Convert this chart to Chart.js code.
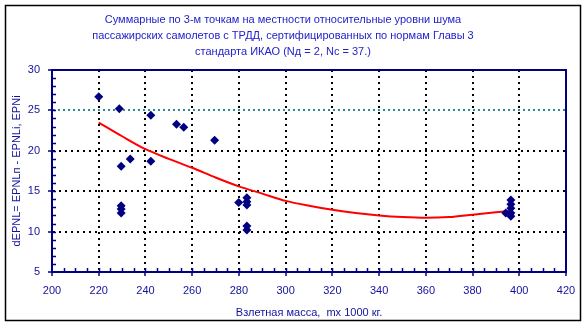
<!DOCTYPE html>
<html>
<head>
<meta charset="utf-8">
<script src="https://cdn.jsdelivr.net/npm/chart.js@4"></script>
<style>
  html, body { margin: 0; padding: 0; background: #fff; }
  #wrap { width: 586px; height: 328px; }
</style>
</head>
<body>
<div id="wrap"><canvas id="noiseChart" width="586" height="328"></canvas></div>
<script>
// takeoff mass (x1000 kg) and summed relative noise level per aircraft
const massPoints = [220, 228.8, 242.3, 253.3, 256.4, 269.6, 233.5, 229.6, 242.3,
  229.6, 229.6, 229.6, 279.9, 283.4, 283.4, 283.4, 283.4, 283.4,
  396.4, 396.4, 396.4, 396.4, 396.4, 394.2];
const deltaPoints = [26.7, 25.2, 24.4, 23.3, 22.9, 21.3, 19.0, 18.1, 18.7,
  13.2, 12.8, 12.3, 13.6, 14.2, 13.7, 13.3, 10.7, 10.2,
  13.9, 13.4, 12.9, 12.3, 11.9, 12.3];

// trend curve
const trendMass = [220, 230, 240, 250, 260, 270, 280, 290, 300, 310, 320, 330, 340, 350, 360, 370, 380, 390, 397];
const trendDelta = [23.5, 21.8, 20.2, 19.0, 17.9, 16.7, 15.6, 14.7, 13.8, 13.2, 12.7, 12.3, 12.0, 11.8, 11.7, 11.8, 12.1, 12.4, 12.6];

const xTicks = [200, 220, 240, 260, 280, 300, 320, 340, 360, 380, 400, 420];
const yTicks = [5, 10, 15, 20, 25, 30];

const titleLines = [
  'Суммарные по 3-м точкам на местности относительные уровни шума',
  'пассажирских самолетов с ТРДД, сертифицированных по нормам Главы 3',
  'стандарта ИКАО (Nд = 2, Nс = 37.)'
];
const xTitle = 'Взлетная масса,  mx 1000 кг.';
const yTitle = 'dEPNL= EPNLп - EPNLi, EPNi';

const NAVY = '#000080';
const LABEL = '#12129c';
const FONT = "'Liberation Sans', Arial, sans-serif";

const framePlugin = {
  id: 'frame',
  beforeDraw(chart) {
    const c = chart.ctx;
    c.save();
    c.fillStyle = '#fff';
    c.fillRect(0, 0, chart.width, chart.height);
    c.strokeStyle = '#000';
    c.lineWidth = 1.5;
    c.strokeRect(5.5, 5.5, 575, 315);
    c.restore();
  },
  afterDraw(chart) {
    const c = chart.ctx;
    const a = chart.chartArea;
    const xs = chart.scales.x, ys = chart.scales.y;
    c.save();
    c.strokeStyle = NAVY;
    c.lineWidth = 2;
    c.beginPath();
    c.moveTo(a.left, a.top); c.lineTo(a.right, a.top); c.lineTo(a.right, a.bottom);
    c.stroke();
    // minor ticks pointing into the plot
    c.lineWidth = 1.5;
    c.beginPath();
    for (let v = 205; v < 420; v += 5) {
      const px = Math.round(xs.getPixelForValue(v)) + 0.5;
      c.moveTo(px, a.bottom); c.lineTo(px, a.bottom - 4);
    }
    for (let v = 6; v < 30; v += 1) {
      const py = Math.round(ys.getPixelForValue(v)) + 0.5;
      c.moveTo(a.left, py); c.lineTo(a.left + 4, py);
    }
    c.stroke();
    c.restore();
  }
};

new Chart(document.getElementById('noiseChart'), {
  type: 'scatter',
  data: {
    datasets: [
      {
        label: 'points',
        data: massPoints.map((m, i) => ({ x: m, y: deltaPoints[i] })),
        pointStyle: 'rectRot',
        pointRadius: 4.5,
        backgroundColor: NAVY,
        borderColor: NAVY,
        borderWidth: 0
      },
      {
        label: 'trend',
        type: 'line',
        data: trendMass.map((m, i) => ({ x: m, y: trendDelta[i] })),
        borderColor: '#ff0000',
        borderWidth: 2,
        pointRadius: 0,
        tension: 0.3,
        fill: false
      }
    ]
  },
  options: {
    responsive: false,
    animation: false,
    layout: { padding: { left: 0, right: 20, top: 0, bottom: 0 } },
    plugins: {
      legend: { display: false },
      tooltip: { enabled: false },
      title: {
        display: true,
        text: titleLines,
        color: '#2222cc',
        font: { family: FONT, size: 11, weight: 'normal', lineHeight: '16px' },
        padding: { top: 12, bottom: 10 }
      }
    },
    scales: {
      x: {
        type: 'linear',
        min: 200, max: 420,
        afterBuildTicks: s => { s.ticks = xTicks.map(v => ({ value: v })); },
        afterFit: s => { s.height = 56; },
        ticks: { color: LABEL, font: { family: FONT, size: 11 }, padding: 8, maxRotation: 0 },
        grid: {
          color: c => (c.tick && (c.tick.value === 200 || c.tick.value === 420)) ? 'rgba(0,0,0,0)' : '#000',
          lineWidth: 2,
          tickColor: NAVY,
          tickLength: 4,
          tickWidth: 1.5
        },
        border: { display: true, color: NAVY, width: 2, dash: [2, 4] },
        title: {
          display: true, text: xTitle, color: LABEL,
          font: { family: FONT, size: 11 }, padding: { top: 4, bottom: 8 }
        }
      },
      y: {
        type: 'linear',
        min: 5, max: 30,
        afterBuildTicks: s => { s.ticks = yTicks.map(v => ({ value: v })); },
        afterFit: s => { s.width = 52; },
        ticks: { color: LABEL, font: { family: FONT, size: 11 }, padding: 8 },
        grid: {
          color: c => {
            const v = c.tick && c.tick.value;
            if (v === 5 || v === 30) return 'rgba(0,0,0,0)';
            return v === 25 ? '#2f8a92' : '#000';
          },
          lineWidth: 2,
          tickColor: NAVY,
          tickLength: 4,
          tickWidth: 1.5
        },
        border: {
          display: true, color: NAVY, width: 2,
          dash: c => (c.tick && c.tick.value === 25) ? [2, 3] : [2, 4]
        },
        title: {
          display: true, text: yTitle, color: LABEL,
          font: { family: FONT, size: 11 }, padding: { top: 10, bottom: 4 }
        }
      }
    }
  },
  plugins: [framePlugin]
});
</script>
</body>
</html>
